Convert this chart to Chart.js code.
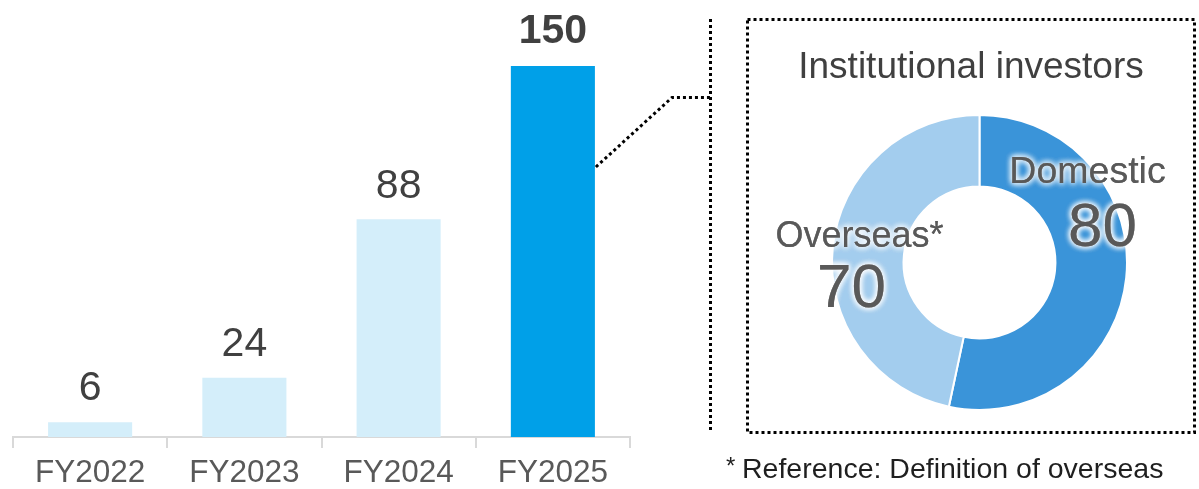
<!DOCTYPE html>
<html>
<head>
<meta charset="utf-8">
<script src="https://cdn.jsdelivr.net/npm/chart.js@4/dist/chart.umd.min.js"></script>
<style>
  html, body { margin: 0; background: #fff; }
  #wrap { position: relative; width: 1199px; height: 489px; }
  #wrap canvas { position: absolute; left: 0; top: 0; }
</style>
</head>
<body>
<div id="wrap">
  <canvas id="barChart" width="1199" height="489"></canvas>
  <canvas id="ringChart" width="1199" height="489"></canvas>
</div>
<script>
const years = ['FY2022', 'FY2023', 'FY2024', 'FY2025'];
const investorCounts = [6, 24, 88, 150];
const investorTypes = ['Domestic', 'Overseas*'];
const investorSplit = [80, 70];

const FONT = '"Liberation Sans", Arial, sans-serif';

function dottedPath(ctx, pts) {
  ctx.beginPath();
  ctx.moveTo(pts[0][0], pts[0][1]);
  for (let i = 1; i < pts.length; i++) ctx.lineTo(pts[i][0], pts[i][1]);
  ctx.stroke();
}

// value labels over the bars + dotted connector to the breakdown box
const barDecor = {
  id: 'barDecor',
  afterDatasetsDraw(chart) {
    const ctx = chart.ctx;
    const bars = chart.getDatasetMeta(0).data;
    ctx.save();
    ctx.textAlign = 'center';
    ctx.textBaseline = 'middle';
    ctx.fillStyle = '#404040';
    bars.forEach((bar, i) => {
      const last = i === bars.length - 1;
      ctx.font = (last ? 'bold ' : '') + '41px ' + FONT;
      ctx.fillText(String(investorCounts[i]), bar.x, bar.y - (last ? 34 : 33));
    });

    const top = bars[bars.length - 1];
    ctx.strokeStyle = '#000';
    ctx.lineWidth = 3;
    ctx.setLineDash([3, 3]);
    dottedPath(ctx, [[top.x + top.width / 2 + 1, 167], [672, 97.5], [710, 97.5]]);
    dottedPath(ctx, [[710.5, 19], [710.5, 432]]);
    ctx.restore();
  }
};

new Chart(document.getElementById('barChart'), {
  type: 'bar',
  data: {
    labels: years,
    datasets: [{
      data: investorCounts,
      backgroundColor: ['#d4eefa', '#d4eefa', '#d4eefa', '#00a0e8'],
      barPercentage: 0.545,
      categoryPercentage: 1
    }]
  },
  options: {
    responsive: false,
    animation: false,
    layout: { padding: { left: 13, right: 569, top: 66, bottom: 0 } },
    plugins: { legend: { display: false }, tooltip: { enabled: false } },
    scales: {
      x: {
        afterFit(scale) { scale.height = 52; },
        grid: { drawOnChartArea: false, drawTicks: true, tickLength: 11, color: '#d9d9d9', lineWidth: 2 },
        border: { display: true, color: '#d9d9d9', width: 2 },
        ticks: { color: '#595959', padding: 10, font: { family: FONT, size: 31.5, lineHeight: 1 } }
      },
      y: { display: false, min: 0, max: 150 }
    }
  },
  plugins: [barDecor]
});

// title, segment labels, dotted frame and footnote around the doughnut
const ringDecor = {
  id: 'ringDecor',
  afterDatasetsDraw(chart) {
    const ctx = chart.ctx;
    const arc = chart.getDatasetMeta(0).data[0];
    const cx = arc.x, cy = arc.y;
    ctx.save();

    ctx.strokeStyle = '#000';
    ctx.lineWidth = 3;
    ctx.setLineDash([3, 3]);
    ctx.strokeRect(747.5, 19.5, 447, 413);
    ctx.setLineDash([]);

    ctx.textAlign = 'center';
    ctx.textBaseline = 'middle';
    ctx.fillStyle = '#404040';
    ctx.font = '37px ' + FONT;
    ctx.fillText('Institutional investors', 971, 68);

    const spots = [
      { name: [108, -90], value: [123, -34], size: 37.5 },
      { name: [-120, -25], value: [-128, 27], size: 36 }
    ];
    ctx.fillStyle = '#595959';
    ctx.shadowColor = '#fff';
    ctx.shadowBlur = 6;
    spots.forEach((s, i) => {
      for (let k = 0; k < 3; k++) {
        ctx.font = s.size + 'px ' + FONT;
        ctx.fillText(investorTypes[i], cx + s.name[0], cy + s.name[1]);
        ctx.font = '62px ' + FONT;
        ctx.fillText(String(investorSplit[i]), cx + s.value[0], cy + s.value[1]);
      }
    });
    ctx.shadowBlur = 0;

    ctx.fillStyle = '#1f1f1f';
    ctx.textAlign = 'left';
    ctx.font = '24px ' + FONT;
    ctx.fillText('*', 726, 467);
    ctx.font = '28.5px ' + FONT;
    ctx.fillText('Reference: Definition of overseas', 742, 470);
    ctx.restore();
  }
};

new Chart(document.getElementById('ringChart'), {
  type: 'doughnut',
  data: {
    labels: investorTypes,
    datasets: [{
      data: investorSplit,
      backgroundColor: ['#3a94d9', '#a3cdee'],
      borderColor: '#fff',
      borderWidth: 2
    }]
  },
  options: {
    responsive: false,
    animation: false,
    cutout: '51.5%',
    layout: { padding: { left: 831, right: 71, top: 114, bottom: 78 } },
    plugins: { legend: { display: false }, tooltip: { enabled: false } },
    events: []
  },
  plugins: [ringDecor]
});
</script>
</body>
</html>
